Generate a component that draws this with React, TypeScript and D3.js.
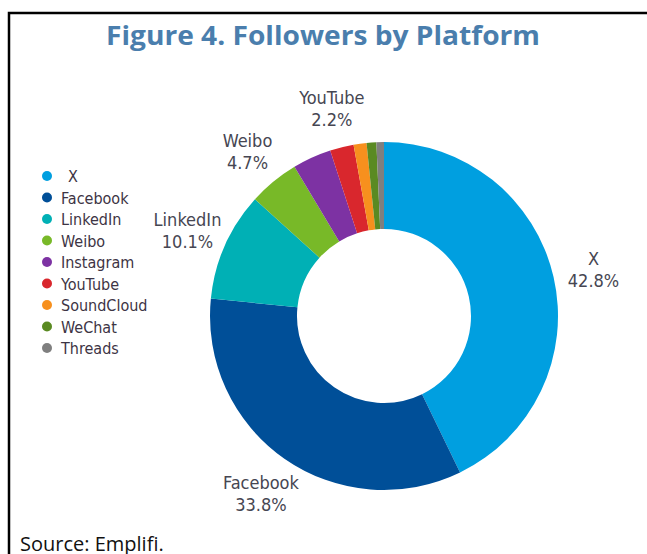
import React from 'react';
import * as d3 from 'd3';

const platforms = ['X', 'Facebook', 'LinkedIn', 'Weibo', 'Instagram', 'YouTube', 'SoundCloud', 'WeChat', 'Threads'];
const shares = [42.8, 33.8, 10.1, 4.7, 3.6, 2.2, 1.2, 0.9, 0.7];
const colors = ['#009fe0', '#004f98', '#00b0b5', '#78b928', '#7d32a3', '#d9272d', '#f7901e', '#5a8a22', '#7f7f7f'];
const labelled = ['X', 'Facebook', 'LinkedIn', 'Weibo', 'YouTube'];

const W = 647;
const H = 554;
const cx = 384;
const cy = 316;
const outerR = 174;
const innerR = 87;
const labelFont = '"DejaVu Sans Condensed", "Liberation Sans", sans-serif';

export default function App() {
  const data = platforms.map((name, i) => ({ name, value: shares[i], color: colors[i] }));
  const pie = d3.pie<any>().value((d: any) => d.value).sort(null);
  const arcs = pie(data);
  const arc = d3.arc<any>().innerRadius(innerR).outerRadius(outerR);
  const labelArc = d3.arc<any>().innerRadius(215).outerRadius(215);

  return (
    <>
      <style>{`body{margin:0}`}</style>
      <svg width={W} height={H} style={{ display: 'block', background: '#fff' }}>
        <rect x={9} y={13} width={720} height={640} fill="none" stroke="#000" strokeWidth={2.5} />
        <text
          x={323}
          y={45}
          textAnchor="middle"
          fill="#4a7ead"
          fontFamily='"Open Sans", "Noto Sans", sans-serif'
          fontWeight={700}
          fontSize={27}
          textLength={434}
          lengthAdjust="spacingAndGlyphs"
        >
          Figure 4. Followers by Platform
        </text>

        <g transform={`translate(${cx},${cy})`}>
          {arcs.map((a, i) => (
            <path key={i} d={arc(a) as string} fill={a.data.color} />
          ))}
          {arcs
            .filter((a) => labelled.includes(a.data.name))
            .map((a, i) => {
              const [lx, ly] = labelArc.centroid(a);
              return (
                <text key={i} textAnchor="middle" fill="#464652" fontFamily={labelFont} fontSize={18}>
                  <tspan x={lx} y={ly - 3}>{a.data.name}</tspan>
                  <tspan x={lx} y={ly + 19}>{a.data.value.toFixed(1)}%</tspan>
                </text>
              );
            })}
        </g>

        <g>
          {data.map((d, i) => (
            <g key={i} transform={`translate(47,${176 + i * 21.5})`}>
              <circle r={5} fill={d.color} />
              <text x={d.name === 'X' ? 21 : 14} y={6} fill="#3d3444" fontFamily={labelFont} fontSize={16}>
                {d.name}
              </text>
            </g>
          ))}
        </g>

        <text x={20} y={551} fill="#111" fontFamily='"Open Sans", "Noto Sans", sans-serif' fontSize={20}>
          Source: Emplifi.
        </text>
      </svg>
    </>
  );
}
